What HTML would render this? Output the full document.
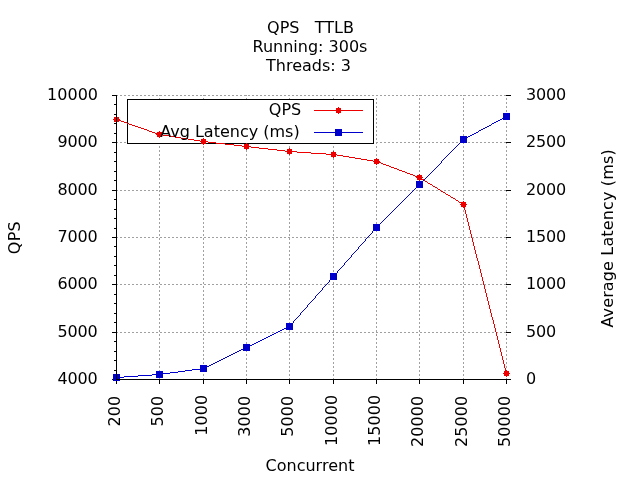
<!DOCTYPE html>
<html><head><meta charset="utf-8"><title>QPS TTLB</title>
<style>html,body{margin:0;padding:0;background:#fff;overflow:hidden}svg{display:block}text{font-family:"DejaVu Sans","Liberation Sans",sans-serif;font-size:16px;fill:#000}</style></head><body>
<svg width="640" height="480" viewBox="0 0 640 480">
<rect width="640" height="480" fill="#fff"/>
<g stroke="#a0a0a0" stroke-width="1" stroke-dasharray="2 2" fill="none" shape-rendering="crispEdges">
<path d="M116 379.5H507"/>
<path d="M116 332.5H507"/>
<path d="M116 284.5H507"/>
<path d="M116 237.5H507"/>
<path d="M116 190.5H507"/>
<path d="M116 142.5H507"/>
<path d="M116 95.5H507"/>
<path d="M116.5 380V95"/>
<path d="M159.5 380V95"/>
<path d="M203.5 380V95"/>
<path d="M246.5 380V95"/>
<path d="M289.5 380V95"/>
<path d="M333.5 380V95"/>
<path d="M376.5 380V95"/>
<path d="M419.5 380V95"/>
<path d="M463.5 380V95"/>
<path d="M506.5 380V95"/>
</g>
<g stroke="#000" stroke-width="1" fill="none" shape-rendering="crispEdges">
<path d="M116 379.5h-4"/>
<path d="M116 370.5h-2"/>
<path d="M116 360.5h-2"/>
<path d="M116 351.5h-2"/>
<path d="M116 341.5h-2"/>
<path d="M116 332.5h-4"/>
<path d="M116 322.5h-2"/>
<path d="M116 313.5h-2"/>
<path d="M116 303.5h-2"/>
<path d="M116 294.5h-2"/>
<path d="M116 284.5h-4"/>
<path d="M116 275.5h-2"/>
<path d="M116 265.5h-2"/>
<path d="M116 256.5h-2"/>
<path d="M116 246.5h-2"/>
<path d="M116 237.5h-4"/>
<path d="M116 228.5h-2"/>
<path d="M116 218.5h-2"/>
<path d="M116 209.5h-2"/>
<path d="M116 199.5h-2"/>
<path d="M116 190.5h-4"/>
<path d="M116 180.5h-2"/>
<path d="M116 171.5h-2"/>
<path d="M116 161.5h-2"/>
<path d="M116 152.5h-2"/>
<path d="M116 142.5h-4"/>
<path d="M116 133.5h-2"/>
<path d="M116 123.5h-2"/>
<path d="M116 114.5h-2"/>
<path d="M116 104.5h-2"/>
<path d="M116 95.5h-4"/>
<path d="M506 379.5h5"/>
<path d="M506 332.5h5"/>
<path d="M506 284.5h5"/>
<path d="M506 237.5h5"/>
<path d="M506 190.5h5"/>
<path d="M506 142.5h5"/>
<path d="M506 95.5h5"/>
<path d="M116.5 380v4"/>
<path d="M159.5 380v4"/>
<path d="M203.5 380v4"/>
<path d="M246.5 380v4"/>
<path d="M289.5 380v4"/>
<path d="M333.5 380v4"/>
<path d="M376.5 380v4"/>
<path d="M419.5 380v4"/>
<path d="M463.5 380v4"/>
<path d="M506.5 380v4"/>
</g>
<rect x="127.5" y="99.5" width="246" height="44" fill="#fff" stroke="#000" stroke-width="1" shape-rendering="crispEdges"/>
<text x="301.2" y="115" text-anchor="end">QPS</text>
<path fill="#ee0000" shape-rendering="crispEdges" d="M314 110h49v1h-49zM116 119h2v1h-2zM118 120h3v1h-3zM121 121h3v1h-3zM124 122h3v1h-3zM127 123h2v1h-2zM129 124h3v1h-3zM132 125h3v1h-3zM135 126h3v1h-3zM138 127h3v1h-3zM141 128h3v1h-3zM144 129h3v1h-3zM147 130h2v1h-2zM149 131h3v1h-3zM152 132h3v1h-3zM155 133h3v1h-3zM158 134h5v1h-5zM163 135h6v1h-6zM169 136h6v1h-6zM175 137h6v1h-6zM181 138h7v1h-7zM188 139h6v1h-6zM194 140h6v1h-6zM200 141h8v1h-8zM208 142h8v1h-8zM216 143h9v1h-9zM225 144h9v1h-9zM234 145h8v1h-8zM242 146h9v1h-9zM251 147h8v1h-8zM259 148h9v1h-9zM268 149h9v1h-9zM277 150h8v1h-8zM285 151h12v1h-12zM297 152h14v1h-14zM311 153h15v1h-15zM326 154h11v1h-11zM337 155h6v1h-6zM343 156h6v1h-6zM349 157h6v1h-6zM355 158h6v1h-6zM361 159h6v1h-6zM367 160h6v1h-6zM373 161h5v1h-5zM378 162h3v1h-3zM381 163h2v1h-2zM383 164h3v1h-3zM386 165h3v1h-3zM389 166h2v1h-2zM391 167h3v1h-3zM394 168h3v1h-3zM397 169h2v1h-2zM399 170h3v1h-3zM402 171h3v1h-3zM405 172h2v1h-2zM407 173h3v1h-3zM410 174h3v1h-3zM413 175h2v1h-2zM415 176h3v1h-3zM418 177h2v1h-2zM420 178h2v1h-2zM422 179h2v1h-2zM425 181h2v1h-2zM428 183h2v1h-2zM430 184h2v1h-2zM433 186h2v1h-2zM435 187h2v1h-2zM438 189h2v1h-2zM441 191h2v1h-2zM443 192h2v1h-2zM446 194h2v1h-2zM448 195h2v1h-2zM451 197h2v1h-2zM453 198h2v1h-2zM456 200h2v1h-2zM459 202h2v1h-2zM461 203h2v1h-2zM424 180h1v1h-1zM427 182h1v1h-1zM432 185h1v1h-1zM437 188h1v1h-1zM440 190h1v1h-1zM445 193h1v1h-1zM450 196h1v1h-1zM455 199h1v1h-1zM458 201h1v1h-1zM463 204h1v2h-1zM464 206h1v4h-1zM465 210h1v4h-1zM466 214h1v4h-1zM467 218h1v4h-1zM468 222h1v4h-1zM469 226h1v4h-1zM470 230h1v4h-1zM471 234h1v4h-1zM472 238h1v4h-1zM473 242h1v4h-1zM474 246h1v4h-1zM475 250h1v4h-1zM476 254h1v4h-1zM477 258h1v3h-1zM478 261h1v4h-1zM479 265h1v4h-1zM480 269h1v4h-1zM481 273h1v4h-1zM482 277h1v4h-1zM483 281h1v4h-1zM484 285h1v4h-1zM485 289h1v4h-1zM486 293h1v4h-1zM487 297h1v4h-1zM488 301h1v4h-1zM489 305h1v4h-1zM490 309h1v4h-1zM491 313h1v4h-1zM492 317h1v3h-1zM493 320h1v4h-1zM494 324h1v4h-1zM495 328h1v4h-1zM496 332h1v4h-1zM497 336h1v4h-1zM498 340h1v4h-1zM499 344h1v4h-1zM500 348h1v4h-1zM501 352h1v4h-1zM502 356h1v4h-1zM503 360h1v4h-1zM504 364h1v4h-1zM505 368h1v4h-1zM506 372h1v2h-1z"/>
<path fill="#ee0000" shape-rendering="crispEdges" d="M114.0 117.0h5v5h-5zM116.0 116.0h1v7h-1zM113.0 119.0h7v1h-7z"/>
<path fill="#ee0000" shape-rendering="crispEdges" d="M157.0 132.0h5v5h-5zM159.0 131.0h1v7h-1zM156.0 134.0h7v1h-7z"/>
<path fill="#ee0000" shape-rendering="crispEdges" d="M201.0 139.0h5v5h-5zM203.0 138.0h1v7h-1zM200.0 141.0h7v1h-7z"/>
<path fill="#ee0000" shape-rendering="crispEdges" d="M244.0 144.0h5v5h-5zM246.0 143.0h1v7h-1zM243.0 146.0h7v1h-7z"/>
<path fill="#ee0000" shape-rendering="crispEdges" d="M287.0 149.0h5v5h-5zM289.0 148.0h1v7h-1zM286.0 151.0h7v1h-7z"/>
<path fill="#ee0000" shape-rendering="crispEdges" d="M331.0 152.0h5v5h-5zM333.0 151.0h1v7h-1zM330.0 154.0h7v1h-7z"/>
<path fill="#ee0000" shape-rendering="crispEdges" d="M374.0 159.0h5v5h-5zM376.0 158.0h1v7h-1zM373.0 161.0h7v1h-7z"/>
<path fill="#ee0000" shape-rendering="crispEdges" d="M417.0 175.0h5v5h-5zM419.0 174.0h1v7h-1zM416.0 177.0h7v1h-7z"/>
<path fill="#ee0000" shape-rendering="crispEdges" d="M461.0 202.0h5v5h-5zM463.0 201.0h1v7h-1zM460.0 204.0h7v1h-7z"/>
<path fill="#ee0000" shape-rendering="crispEdges" d="M504.0 371.0h5v5h-5zM506.0 370.0h1v7h-1zM503.0 373.0h7v1h-7z"/>
<path fill="#ee0000" shape-rendering="crispEdges" d="M336.0 108.0h5v5h-5zM338.0 107.0h1v7h-1zM335.0 110.0h7v1h-7z"/>
<text x="299.7" y="136.7" text-anchor="end">Avg Latency (ms)</text>
<path fill="#0000cd" shape-rendering="crispEdges" d="M314 132h49v1h-49zM504 117h2v1h-2zM502 118h2v1h-2zM500 119h2v1h-2zM498 120h2v1h-2zM496 121h2v1h-2zM494 122h2v1h-2zM492 123h2v1h-2zM489 125h2v1h-2zM487 126h2v1h-2zM485 127h2v1h-2zM483 128h2v1h-2zM481 129h2v1h-2zM479 130h2v1h-2zM476 132h2v1h-2zM474 133h2v1h-2zM472 134h2v1h-2zM470 135h2v1h-2zM468 136h2v1h-2zM466 137h2v1h-2zM464 138h2v1h-2zM288 326h2v1h-2zM286 327h2v1h-2zM284 328h2v1h-2zM282 329h2v1h-2zM280 330h2v1h-2zM278 331h2v1h-2zM276 332h2v1h-2zM274 333h2v1h-2zM272 334h2v1h-2zM270 335h2v1h-2zM268 336h2v1h-2zM266 337h2v1h-2zM264 338h2v1h-2zM262 339h2v1h-2zM260 340h2v1h-2zM258 341h2v1h-2zM256 342h2v1h-2zM254 343h2v1h-2zM252 344h2v1h-2zM250 345h2v1h-2zM248 346h2v1h-2zM245 347h3v1h-3zM243 348h2v1h-2zM241 349h2v1h-2zM239 350h2v1h-2zM237 351h2v1h-2zM235 352h2v1h-2zM233 353h2v1h-2zM231 354h2v1h-2zM229 355h2v1h-2zM227 356h2v1h-2zM225 357h2v1h-2zM223 358h2v1h-2zM221 359h2v1h-2zM219 360h2v1h-2zM217 361h2v1h-2zM215 362h2v1h-2zM213 363h2v1h-2zM211 364h2v1h-2zM209 365h2v1h-2zM207 366h2v1h-2zM205 367h2v1h-2zM200 368h5v1h-5zM192 369h8v1h-8zM185 370h7v1h-7zM178 371h7v1h-7zM170 372h8v1h-8zM163 373h7v1h-7zM152 374h11v1h-11zM138 375h14v1h-14zM124 376h14v1h-14zM116 377h8v1h-8zM290 325h1v1h-1zM291 324h1v1h-1zM292 323h1v1h-1zM293 321h1v2h-1zM294 320h1v1h-1zM295 319h1v1h-1zM296 318h1v1h-1zM297 317h1v1h-1zM298 316h1v1h-1zM299 315h1v1h-1zM300 313h1v2h-1zM301 312h1v1h-1zM302 311h1v1h-1zM303 310h1v1h-1zM304 309h1v1h-1zM305 308h1v1h-1zM306 307h1v1h-1zM307 305h1v2h-1zM308 304h1v1h-1zM309 303h1v1h-1zM310 302h1v1h-1zM311 301h1v1h-1zM312 300h1v1h-1zM313 299h1v1h-1zM314 298h1v1h-1zM315 296h1v2h-1zM316 295h1v1h-1zM317 294h1v1h-1zM318 293h1v1h-1zM319 292h1v1h-1zM320 291h1v1h-1zM321 290h1v1h-1zM322 288h1v2h-1zM323 287h1v1h-1zM324 286h1v1h-1zM325 285h1v1h-1zM326 284h1v1h-1zM327 283h1v1h-1zM328 282h1v1h-1zM329 280h1v2h-1zM330 279h1v1h-1zM331 278h1v1h-1zM332 277h1v1h-1zM333 276h1v1h-1zM334 275h1v1h-1zM335 274h1v1h-1zM336 273h1v1h-1zM337 271h1v2h-1zM338 270h1v1h-1zM339 269h1v1h-1zM340 268h1v1h-1zM341 267h1v1h-1zM342 266h1v1h-1zM343 265h1v1h-1zM344 263h1v2h-1zM345 262h1v1h-1zM346 261h1v1h-1zM347 260h1v1h-1zM348 259h1v1h-1zM349 258h1v1h-1zM350 257h1v1h-1zM351 255h1v2h-1zM352 254h1v1h-1zM353 253h1v1h-1zM354 252h1v1h-1zM355 251h1v1h-1zM356 250h1v1h-1zM357 249h1v1h-1zM358 247h1v2h-1zM359 246h1v1h-1zM360 245h1v1h-1zM361 244h1v1h-1zM362 243h1v1h-1zM363 242h1v1h-1zM364 241h1v1h-1zM365 239h1v2h-1zM366 238h1v1h-1zM367 237h1v1h-1zM368 236h1v1h-1zM369 235h1v1h-1zM370 234h1v1h-1zM371 233h1v1h-1zM372 231h1v2h-1zM373 230h1v1h-1zM374 229h1v1h-1zM375 228h1v1h-1zM376 227h1v1h-1zM377 226h1v1h-1zM378 225h1v1h-1zM379 224h1v1h-1zM380 223h1v1h-1zM381 222h1v1h-1zM382 221h1v1h-1zM383 220h1v1h-1zM384 219h1v1h-1zM385 218h1v1h-1zM386 217h1v1h-1zM387 216h1v1h-1zM388 215h1v1h-1zM389 214h1v1h-1zM390 213h1v1h-1zM391 212h1v1h-1zM392 211h1v1h-1zM393 210h1v1h-1zM394 209h1v1h-1zM395 208h1v1h-1zM396 207h1v1h-1zM397 206h1v1h-1zM398 205h1v1h-1zM399 204h1v1h-1zM400 203h1v1h-1zM401 202h1v1h-1zM402 201h1v1h-1zM403 200h1v1h-1zM404 199h1v1h-1zM405 198h1v1h-1zM406 197h1v1h-1zM407 196h1v1h-1zM408 195h1v1h-1zM409 194h1v1h-1zM410 193h1v1h-1zM411 192h1v1h-1zM412 191h1v1h-1zM413 190h1v1h-1zM414 189h1v1h-1zM415 188h1v1h-1zM416 187h1v1h-1zM417 186h1v1h-1zM418 185h1v1h-1zM419 184h1v1h-1zM420 183h1v1h-1zM421 182h1v1h-1zM422 181h1v1h-1zM423 180h1v1h-1zM424 179h1v1h-1zM425 178h1v1h-1zM426 177h1v1h-1zM427 176h1v1h-1zM428 175h1v1h-1zM429 174h1v1h-1zM430 173h1v1h-1zM431 172h1v1h-1zM432 171h1v1h-1zM433 170h1v1h-1zM434 169h1v1h-1zM435 168h1v1h-1zM436 167h1v1h-1zM437 166h1v1h-1zM438 165h1v1h-1zM439 164h1v1h-1zM440 163h1v1h-1zM441 161h1v2h-1zM442 160h1v1h-1zM443 159h1v1h-1zM444 158h1v1h-1zM445 157h1v1h-1zM446 156h1v1h-1zM447 155h1v1h-1zM448 154h1v1h-1zM449 153h1v1h-1zM450 152h1v1h-1zM451 151h1v1h-1zM452 150h1v1h-1zM453 149h1v1h-1zM454 148h1v1h-1zM455 147h1v1h-1zM456 146h1v1h-1zM457 145h1v1h-1zM458 144h1v1h-1zM459 143h1v1h-1zM460 142h1v1h-1zM461 141h1v1h-1zM462 140h1v1h-1zM463 139h1v1h-1zM478 131h1v1h-1zM491 124h1v1h-1zM506 116h1v1h-1z"/>
<rect x="113" y="374" width="7" height="7" fill="#0000cd" shape-rendering="crispEdges"/>
<rect x="156" y="371" width="7" height="7" fill="#0000cd" shape-rendering="crispEdges"/>
<rect x="200" y="365" width="7" height="7" fill="#0000cd" shape-rendering="crispEdges"/>
<rect x="243" y="344" width="7" height="7" fill="#0000cd" shape-rendering="crispEdges"/>
<rect x="286" y="323" width="7" height="7" fill="#0000cd" shape-rendering="crispEdges"/>
<rect x="330" y="273" width="7" height="7" fill="#0000cd" shape-rendering="crispEdges"/>
<rect x="373" y="224" width="7" height="7" fill="#0000cd" shape-rendering="crispEdges"/>
<rect x="416" y="181" width="7" height="7" fill="#0000cd" shape-rendering="crispEdges"/>
<rect x="460" y="136" width="7" height="7" fill="#0000cd" shape-rendering="crispEdges"/>
<rect x="503" y="113" width="7" height="7" fill="#0000cd" shape-rendering="crispEdges"/>
<rect x="335" y="129" width="7" height="7" fill="#0000cd" shape-rendering="crispEdges"/>
<path stroke="#000" stroke-width="1" fill="none" shape-rendering="crispEdges" d="M116.5 95V379.5H507"/>
<text x="97.6" y="384.4" text-anchor="end" letter-spacing="-0.15">4000</text>
<text x="526" y="384.4" letter-spacing="-0.18">0</text>
<text x="97.6" y="337.4" text-anchor="end" letter-spacing="-0.15">5000</text>
<text x="526" y="337.4" letter-spacing="-0.18">500</text>
<text x="97.6" y="289.4" text-anchor="end" letter-spacing="-0.15">6000</text>
<text x="526" y="289.4" letter-spacing="-0.18">1000</text>
<text x="97.6" y="242.4" text-anchor="end" letter-spacing="-0.15">7000</text>
<text x="526" y="242.4" letter-spacing="-0.18">1500</text>
<text x="97.6" y="195.4" text-anchor="end" letter-spacing="-0.15">8000</text>
<text x="526" y="195.4" letter-spacing="-0.18">2000</text>
<text x="97.6" y="147.4" text-anchor="end" letter-spacing="-0.15">9000</text>
<text x="526" y="147.4" letter-spacing="-0.18">2500</text>
<text x="98" y="100.4" text-anchor="end">10000</text>
<text x="526" y="100.4" letter-spacing="-0.18">3000</text>
<text transform="translate(119.8 395.6) rotate(-90)" text-anchor="end" letter-spacing="0.1">200</text>
<text transform="translate(162.8 395.6) rotate(-90)" text-anchor="end" letter-spacing="0.1">500</text>
<text transform="translate(206.8 394.6) rotate(-90)" text-anchor="end" letter-spacing="0.1">1000</text>
<text transform="translate(249.8 395.6) rotate(-90)" text-anchor="end" letter-spacing="0.1">3000</text>
<text transform="translate(292.8 395.6) rotate(-90)" text-anchor="end" letter-spacing="0.1">5000</text>
<text transform="translate(336.8 394.6) rotate(-90)" text-anchor="end" letter-spacing="0.1">10000</text>
<text transform="translate(379.8 394.6) rotate(-90)" text-anchor="end" letter-spacing="0.1">15000</text>
<text transform="translate(422.8 395.6) rotate(-90)" text-anchor="end" letter-spacing="0.1">20000</text>
<text transform="translate(466.8 395.6) rotate(-90)" text-anchor="end" letter-spacing="0.1">25000</text>
<text transform="translate(509.8 395.6) rotate(-90)" text-anchor="end" letter-spacing="0.1">50000</text>
<text x="310.5" y="33" text-anchor="middle" xml:space="preserve">QPS   TTLB</text>
<text x="310" y="51.5" text-anchor="middle">Running: 300s</text>
<text x="308.5" y="70.5" text-anchor="middle">Threads: 3</text>
<text x="310" y="471" text-anchor="middle">Concurrent</text>
<text transform="translate(20 237.6) rotate(-90)" text-anchor="middle" letter-spacing="0.3">QPS</text>
<text transform="translate(613 238.4) rotate(-90)" text-anchor="middle" letter-spacing="0.145">Average Latency (ms)</text>
</svg></body></html>
